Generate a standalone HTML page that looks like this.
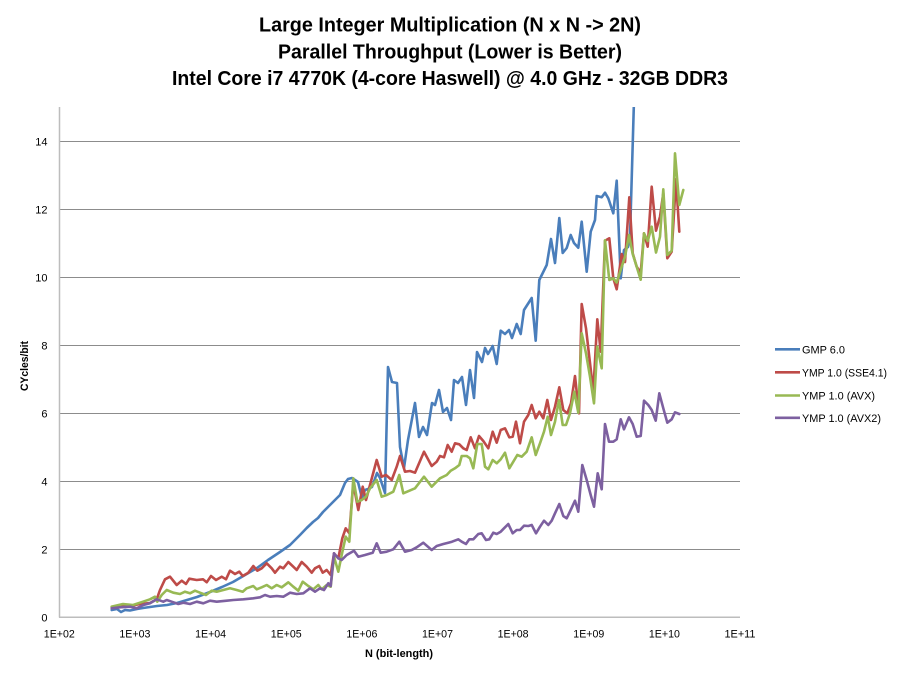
<!DOCTYPE html>
<html>
<head>
<meta charset="utf-8">
<style>
html,body{margin:0;padding:0;background:#fff;}
svg{display:block;}
text{font-family:"Liberation Sans",Arial,sans-serif;fill:#000;}
</style>
</head>
<body>
<svg width="900" height="675" viewBox="0 0 900 675" xmlns="http://www.w3.org/2000/svg">
<rect x="0" y="0" width="900" height="675" fill="#fff"/>
<!-- Title -->
<text x="450" y="31.5" text-anchor="middle" font-size="20" font-weight="bold" textLength="382" lengthAdjust="spacingAndGlyphs">Large Integer Multiplication (N x N -&gt; 2N)</text>
<text x="450" y="58.3" text-anchor="middle" font-size="20" font-weight="bold" textLength="344" lengthAdjust="spacingAndGlyphs">Parallel Throughput (Lower is Better)</text>
<text x="450" y="85" text-anchor="middle" font-size="20" font-weight="bold" textLength="556" lengthAdjust="spacingAndGlyphs">Intel Core i7 4770K (4-core Haswell) @ 4.0 GHz - 32GB DDR3</text>

<!-- gridlines -->
<g stroke="#8c8c8c" stroke-width="1">
<line x1="59.5" y1="141.5" x2="740" y2="141.5"/>
<line x1="59.5" y1="209.5" x2="740" y2="209.5"/>
<line x1="59.5" y1="277.5" x2="740" y2="277.5"/>
<line x1="59.5" y1="345.5" x2="740" y2="345.5"/>
<line x1="59.5" y1="413.5" x2="740" y2="413.5"/>
<line x1="59.5" y1="481.5" x2="740" y2="481.5"/>
<line x1="59.5" y1="549.5" x2="740" y2="549.5"/>
</g>
<!-- axes -->
<g stroke="#bdbdbd" stroke-width="1.5">
<line x1="59.5" y1="107" x2="59.5" y2="617.5"/>
<line x1="59" y1="617.3" x2="740" y2="617.3"/>
</g>

<!-- y tick labels -->
<g font-size="11" text-anchor="end">
<text x="47.5" y="145.5">14</text>
<text x="47.5" y="213.5">12</text>
<text x="47.5" y="281.5">10</text>
<text x="47.5" y="349.5">8</text>
<text x="47.5" y="417.5">6</text>
<text x="47.5" y="485.5">4</text>
<text x="47.5" y="553.5">2</text>
<text x="47.5" y="621.5">0</text>
</g>
<!-- x tick labels -->
<g font-size="11" text-anchor="middle">
<text x="59.3" y="637.3" textLength="31" lengthAdjust="spacingAndGlyphs">1E+02</text>
<text x="134.9" y="637.3" textLength="31" lengthAdjust="spacingAndGlyphs">1E+03</text>
<text x="210.6" y="637.3" textLength="31" lengthAdjust="spacingAndGlyphs">1E+04</text>
<text x="286.2" y="637.3" textLength="31" lengthAdjust="spacingAndGlyphs">1E+05</text>
<text x="361.9" y="637.3" textLength="31" lengthAdjust="spacingAndGlyphs">1E+06</text>
<text x="437.5" y="637.3" textLength="31" lengthAdjust="spacingAndGlyphs">1E+07</text>
<text x="513.1" y="637.3" textLength="31" lengthAdjust="spacingAndGlyphs">1E+08</text>
<text x="588.8" y="637.3" textLength="31" lengthAdjust="spacingAndGlyphs">1E+09</text>
<text x="664.4" y="637.3" textLength="31" lengthAdjust="spacingAndGlyphs">1E+10</text>
<text x="740" y="637.3" textLength="31" lengthAdjust="spacingAndGlyphs">1E+11</text>
</g>

<!-- axis titles -->
<text x="399" y="656.8" text-anchor="middle" font-size="11" font-weight="bold" textLength="68" lengthAdjust="spacingAndGlyphs">N (bit-length)</text>
<text transform="translate(28,366) rotate(-90)" x="0" y="0" text-anchor="middle" font-size="11" font-weight="bold" textLength="50" lengthAdjust="spacingAndGlyphs">CYcles/bit</text>

<defs>
<clipPath id="plot"><rect x="59" y="107" width="682" height="512"/></clipPath>
</defs>

<g clip-path="url(#plot)" fill="none" stroke-width="2.6" stroke-linejoin="round" stroke-linecap="round">
<!-- GMP 6.0 -->
<polyline stroke="#4a7ebb" points="111.7,610 117,609 121,612 125,610 130,610.5 137,609 143,608 150,607 157,606 167,605 177,603 187,600 197,597 210,592 222,587 233,582 245,575 257,568 268,560 280,552 290,545 300,535 306.7,528 313,522 318,518 323,512 328,507 333,502 340,495 345,483 348,479 352,478 355,480 358,482 362,498 365,490 368,489 372,487 377,473 380,478 385,493 388,367 392,382 397,383 400,447 404,468 408,440 415,403 419,437 423,427 427,435 432,403 435,405 439,390 443,412 447,408 451,420 454,380 458,383 462,377 466,405 470,370 474,398 477,352 482,362 485,348 488,354 492.7,346 496.7,364 500.7,330.7 505,334 509,330 512,338 516.7,324 520.7,334 524,310 531.7,298 535.7,340.7 539.3,280 546.7,265 551,239 555,263 559.3,218 562.7,253 566.7,248 570.7,235 574,243 578.3,247.7 581.7,221.7 586.7,271.7 590.7,231.7 595,220 596.7,196 601.7,197.3 605,192.7 608.3,198.3 613.3,213.3 616.7,180.7 620.7,278.3 624,250 628,247 630,237 634,100"/>
<!-- YMP SSE4.1 -->
<polyline stroke="#be4b48" points="111.7,607.3 120,606 130,606 140,604 150,603 156.7,599.3 160,590 165,579.3 170,576.7 176.7,585 181.7,580.7 186,584 189.3,578.7 196.7,580 203,579.3 206.7,582.3 211,576 216,580 221.7,576.7 226,579.3 230,570.7 235,574 239.3,571.7 242.7,576 248.3,572.7 253.3,566 257.3,570.7 261.7,568.3 266.7,563.3 271.7,568.3 275,572.7 280,566.7 283.3,568.3 288.3,562 293.3,566.7 296.7,570 301.7,562 306.7,566.7 311.7,572.7 315,568.3 319.3,566 322.7,572.7 326.7,570 330.7,575 334,553.3 338.3,558.3 342.3,538.3 345.7,528.3 349.3,533.3 353.3,483.3 358.3,510 362.7,486.7 366,500 370,485 376.7,460 381.7,476.7 386,475 391.7,480 396.7,466.7 400,456 405,471.7 410,471 415,472.7 424,451.7 431.7,466 436.7,461.7 440,456 444,457.3 447.7,445 451.7,451.7 455,443.3 459.3,444.3 463.3,448.3 466.7,450 470.7,437.3 475,448.3 479,436 483.3,441 488.3,448.3 492.7,431.7 496.7,442.7 500.7,430 505,428.3 509.3,437.3 512.7,436.7 516,421.7 520,443.3 524,421.7 528.3,415 531.7,405 535.7,418.3 539.3,411.7 543.3,418.3 547.3,400 551,420 555,406.7 559.3,387.3 563.3,410 567.3,413.3 571,403.3 575,376 579,413.3 581.7,304 586,328.3 593.3,391.7 597.3,319.3 600.7,351.7 605,240.7 609.3,238.3 613.3,278.3 616.7,289.3 621.7,254 625,262 629.3,197.3 632.7,253.3 636.7,266.7 640.7,272.7 644,233.3 647.7,246.7 651.7,186.7 656,230.7 660,216.7 663.3,193.3 667.3,258.3 671.7,251.7 676,179.3 679.3,231.7"/>
<!-- YMP AVX -->
<polyline stroke="#98b954" points="111.7,606.7 123,604 133,605 143,601.7 150,599.3 155,596.7 157.3,601.7 161.7,595 166.7,590 173.3,592.7 180,594 185,591.7 190,593.3 195,590.7 200,592.7 206,595 211.7,590.7 216.7,591.7 223.3,590 230,588.3 236.7,590 242.7,591.7 246.7,588.3 253.3,586 256.7,589.3 261.7,587.3 266.7,585 271.7,588.3 276.7,585 281.7,587.3 288.3,582.3 293.3,586.7 298.3,590.7 302.7,581.7 308.3,586 313.3,589.3 318.3,585 321.7,589.3 326.7,585 330.7,586.7 334,556.7 338.3,571.7 341.7,555 345.7,536.7 349.3,541.7 353.3,478.3 357.3,501.7 361.7,500 366,496.7 370,488.3 376.7,480 381.7,496.7 386.7,495 393.3,491.7 399.3,475 403.3,493.3 415,488.3 424,476.7 431.7,486.7 440,478.3 446.7,475 450.7,470.7 455,468.3 459.3,465 461.7,456 466.7,456 470,458.3 473.3,468.3 477.3,444 481.7,444 485,466.7 488.3,469.3 492.7,460 496.7,463.3 500.7,459.3 505,452.7 509.3,468.3 513.3,461.7 517.3,455 521.7,456.7 526.7,451.7 531.7,437.3 535.7,455 540,443.3 544,431.7 547.7,416.7 551,435 555,421.7 559,400 562.7,425 566,425 570,413.3 574.3,391.7 578.3,412.7 581.7,333.3 586,353.3 590,376.7 594,403.3 597.3,346.7 601.7,368.3 605,240.3 609.3,280 613.3,278.3 616.7,282.5 621.7,266.7 625,256.7 629,235 632.7,254 636.7,266.7 640.7,279.7 644,233.3 647.7,241 651.7,226.7 656,252.5 660,236.7 663.3,189.3 667.3,255 671.7,250.7 675,153.3 679.3,205 683.3,190"/>
<!-- YMP AVX2 -->
<polyline stroke="#7d60a0" points="111.7,608.3 120,607.3 130,606.7 136.7,608.3 143.3,605 150,603.3 156.7,599.3 163.3,601.7 166.7,600 171.7,601.7 178.3,604 183.3,602.7 190,604 196.7,601.7 203.3,603.3 210,600.7 216.7,601.7 226.7,600.7 233.3,600 243.3,599.3 253.3,598.3 260,597.3 265,595 270,596.7 276.7,596 283.3,596.7 290,592.7 296.7,594 303.3,593.3 310,588.3 315,591.7 320,588.3 324,590 328.3,583.3 330.7,586 334,553.3 338.3,558.3 341.7,560 346.7,555 354,550.7 358.3,556.7 365,555 372.7,552.7 376.7,543.3 380.7,552.7 386.7,551.7 393.3,549.3 399.3,541.7 405,551.7 411.7,550 416.7,547.3 423.3,542.7 431.7,550 436.7,546 443.3,544 448.3,542.7 452,541.7 458.3,539.3 461.7,541.7 466,544 469.3,539.3 473.3,539.3 478.3,534 481.7,533.3 486,540 489.3,539.3 493.3,532.7 496.7,534 500.7,531.7 504,528.3 508.3,524 512.7,533.3 516.7,530 520,530 524,525.7 528.3,526 531.7,525 536,533.3 540,526.7 544,520.7 548.3,525 551.7,520.7 555,513.3 559.3,504 563.3,516 566.7,518.3 570.7,510 575,500.7 578.3,511.7 582.3,465 586.7,480 590.7,495 594,506.7 597.7,473.3 601.7,489.3 605,424 609,441.7 613.3,441.7 616.7,439.3 620.7,419.3 624,429.3 629,417.3 632.7,424 636.7,436.7 640.7,436 644,400.7 648.3,405 651.7,410 655.7,420.7 659.3,393.3 663.3,408.3 667.3,422.7 671.7,419.3 675,412.3 679.3,414"/>
</g>

<!-- legend -->
<g stroke-width="2.6">
<line x1="775" y1="349.3" x2="800" y2="349.3" stroke="#4a7ebb"/>
<line x1="775" y1="372.3" x2="800" y2="372.3" stroke="#be4b48"/>
<line x1="775" y1="395.5" x2="800" y2="395.5" stroke="#98b954"/>
<line x1="775" y1="417.8" x2="800" y2="417.8" stroke="#7d60a0"/>
</g>
<g font-size="11">
<text x="802" y="353.3" textLength="43" lengthAdjust="spacingAndGlyphs">GMP 6.0</text>
<text x="802" y="376.3" textLength="85" lengthAdjust="spacingAndGlyphs">YMP 1.0 (SSE4.1)</text>
<text x="802" y="399.5" textLength="73" lengthAdjust="spacingAndGlyphs">YMP 1.0 (AVX)</text>
<text x="802" y="421.8" textLength="79" lengthAdjust="spacingAndGlyphs">YMP 1.0 (AVX2)</text>
</g>
</svg>
</body>
</html>
